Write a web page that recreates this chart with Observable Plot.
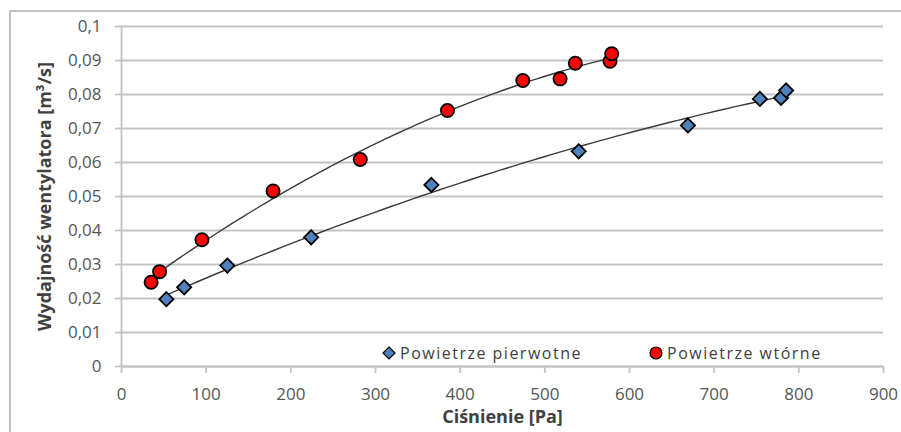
<!DOCTYPE html>
<html>
<head>
<meta charset="utf-8">
<script src="https://cdn.jsdelivr.net/npm/d3@7"></script>
<script src="https://cdn.jsdelivr.net/npm/@observablehq/plot@0.6"></script>
<style>
  html, body { margin: 0; padding: 0; background: #fff; }
  #wrap { position: relative; width: 901px; height: 432px; overflow: hidden; }
  #frame { position: absolute; left: 9px; top: 10px; width: 950px; height: 500px;
           border: 2px solid #c0c0c0; pointer-events: none; }
  #legend { position: absolute; top: 342px; left: 382px; font-family: "Open Sans", sans-serif;
            font-size: 16px; color: #404040; letter-spacing: 1.5px; white-space: nowrap; }
  #legend span.item { position: absolute; top: 0; display: flex; align-items: center; }
  #legend svg { margin-right: 4px; }
</style>
</head>
<body>
<div id="wrap">
  <div id="chart"></div>
  <div id="legend"></div>
  <div id="frame"></div>
</div>
<script>
// ---- data ----
const seriesNames = ["Powietrze pierwotne", "Powietrze wtórne"];

const pierwotneX = [53, 74, 125, 224, 366, 540, 669, 754, 779, 785];
const pierwotneY = [0.0198, 0.0233, 0.0297, 0.0380, 0.0534, 0.0633, 0.0709, 0.0787, 0.0790, 0.0812];

const wtorneX = [35, 45, 95, 179, 282, 385, 474, 518, 536, 577, 579];
const wtorneY = [0.0248, 0.0279, 0.0373, 0.0516, 0.0609, 0.0753, 0.0841, 0.0846, 0.0892, 0.0898, 0.0920];

const xTicks = [0, 100, 200, 300, 400, 500, 600, 700, 800, 900];
const yTicks = [0, 0.01, 0.02, 0.03, 0.04, 0.05, 0.06, 0.07, 0.08, 0.09, 0.1];

const xTitle = "Ciśnienie [Pa]";
const yTitle = "Wydajność wentylatora [m³/s]";

// ---- build tables ----
const pierwotne = pierwotneX.map((x, i) => ({x, y: pierwotneY[i], s: seriesNames[0]}));
const wtorne = wtorneX.map((x, i) => ({x, y: wtorneY[i], s: seriesNames[1]}));

// 2nd-order polynomial trendline (least squares), like the spreadsheet's
function polyTrend(xs, ys, n = 80) {
  let S = [0,0,0,0,0], T = [0,0,0];
  xs.forEach((x, i) => {
    for (let k = 0; k < 5; k++) S[k] += Math.pow(x, k);
    for (let k = 0; k < 3; k++) T[k] += ys[i] * Math.pow(x, k);
  });
  const A = [[S[0],S[1],S[2],T[0]],[S[1],S[2],S[3],T[1]],[S[2],S[3],S[4],T[2]]];
  for (let c = 0; c < 3; c++) {
    for (let r = c + 1; r < 3; r++) {
      const f = A[r][c] / A[c][c];
      for (let k = c; k < 4; k++) A[r][k] -= f * A[c][k];
    }
  }
  const b = [0,0,0];
  for (let r = 2; r >= 0; r--) {
    let s = A[r][3];
    for (let k = r + 1; k < 3; k++) s -= A[r][k] * b[k];
    b[r] = s / A[r][r];
  }
  const x0 = d3.min(xs), x1 = d3.max(xs);
  return d3.range(n + 1).map(i => {
    const x = x0 + (x1 - x0) * i / n;
    return {x, y: b[0] + b[1] * x + b[2] * x * x};
  });
}
const trendP = polyTrend(pierwotneX, pierwotneY);
const trendW = polyTrend(wtorneX, wtorneY);

const fmt = d => String(d).replace(".", ",");
const gridColor = "#c3c3c3";

const chart = Plot.plot({
  width: 901,
  height: 432,
  marginLeft: 121,
  marginRight: 18,
  marginTop: 26,
  marginBottom: 66,
  x: {domain: [0, 900]},
  y: {domain: [0, 0.1]},
  style: {fontFamily: "Open Sans, sans-serif", fontSize: "17px", color: "#555", background: "#fff"},
  marks: [
    Plot.gridY(yTicks, {stroke: gridColor, strokeOpacity: 1, strokeWidth: 1.8}),
    Plot.axisY(yTicks, {tickSize: 6, tickPadding: 14, stroke: gridColor, strokeWidth: 1.8,
                        tickFormat: fmt, label: null, letterSpacing: "1px"}),
    Plot.ruleX([0], {stroke: gridColor, strokeWidth: 1.8}),
    Plot.axisX(xTicks, {tickSize: 7, tickPadding: 14, stroke: gridColor, strokeWidth: 1.8,
                        label: null, letterSpacing: "0.6px"}),
    Plot.ruleY([0], {stroke: gridColor, strokeWidth: 1.8}),
    Plot.line(trendW, {x: "x", y: "y", stroke: "#3a3a3a", strokeWidth: 1.4}),
    Plot.line(trendP, {x: "x", y: "y", stroke: "#3a3a3a", strokeWidth: 1.4}),
    Plot.dot(pierwotne, {x: "x", y: "y", symbol: "diamond2", r: 6.4, fill: "#4f81bd", stroke: "#000", strokeWidth: 1.8}),
    Plot.dot(wtorne, {x: "x", y: "y", r: 6.6, fill: "#ff0000", stroke: "#000", strokeWidth: 1.8}),
    Plot.text([xTitle], {frameAnchor: "bottom", dy: 56, fontWeight: "bold", fontSize: 18, letterSpacing: "0.8px", fill: "#404040"}),
    Plot.text([yTitle], {frameAnchor: "left", textAnchor: "middle", dx: -76, rotate: -90, fontWeight: "bold", fontSize: 18, letterSpacing: "0.5px", fill: "#404040"})
  ]
});
document.getElementById("chart").appendChild(chart);

// legend
const legend = document.getElementById("legend");
const legendItems = [
  {name: seriesNames[0], left: 0, sym: `<svg width="14" height="14" viewBox="-7 -7 14 14"><path d="M0,-6L6,0L0,6L-6,0Z" fill="#4f81bd" stroke="#000" stroke-width="1.2"/></svg>`},
  {name: seriesNames[1], left: 267, sym: `<svg width="14" height="14" viewBox="-7 -7 14 14"><circle r="6" fill="#ff0000" stroke="#000" stroke-width="1.2"/></svg>`}
];
legendItems.forEach(it => {
  const s = document.createElement("span");
  s.className = "item";
  s.style.left = it.left + "px";
  s.innerHTML = it.sym + `<span>${it.name}</span>`;
  legend.appendChild(s);
});
</script>
</body>
</html>
